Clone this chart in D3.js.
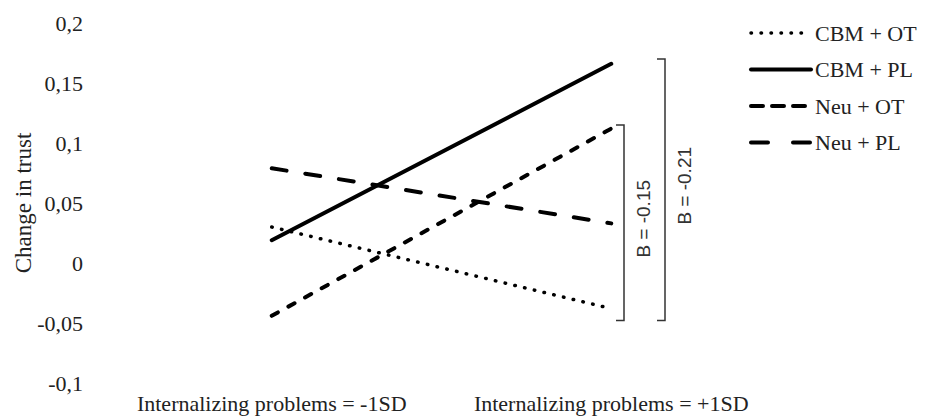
<!DOCTYPE html>
<html>
<head>
<meta charset="utf-8">
<script src="https://cdn.jsdelivr.net/npm/d3@7"></script>
<style>
  body { margin: 0; background: #fff; }
  svg { display: block; }
</style>
</head>
<body>
<div id="chart"></div>
<script>
var width = 928, height = 418;
var serif = "Liberation Serif";

var categories = ["Internalizing problems = -1SD", "Internalizing problems = +1SD"];
var seriesNames = ["CBM + OT", "CBM + PL", "Neu + OT", "Neu + PL"];
var cbmOT = [0.030, -0.038];
var cbmPL = [0.019, 0.166];
var neuOT = [-0.044, 0.112];
var neuPL = [0.079, 0.033];
var yTicks = [-0.1, -0.05, 0, 0.05, 0.1, 0.15, 0.2];

// B annotations: label, top value, bottom value
var bracketLabels = ["B = -0.15", "B = -0.21"];
var bracketTops = [0.115, 0.17];
var bracketBottoms = [-0.048, -0.048];

var styles = [
  { width: 3.5, dash: "0.5,9.5" },  // dotted
  { width: 4, dash: null },         // solid
  { width: 4, dash: "7,12" },       // short dash
  { width: 4, dash: "15,19" }       // long dash
];
var allSeries = [cbmOT, cbmPL, neuOT, neuPL];

var svg = d3.select("#chart").append("svg")
    .attr("width", width)
    .attr("height", height);

var x = d3.scalePoint().domain(categories).range([102, 781]).padding(0.5);
var y = d3.scaleLinear().domain([-0.1, 0.2]).range([383, 23]);

// y axis, labels only
var yAxis = svg.append("g")
    .attr("transform", "translate(83,0)")
    .call(d3.axisLeft(y).tickValues(yTicks).tickSize(0).tickPadding(0)
      .tickFormat(function(d){ return String(d).replace(".", ","); }));
yAxis.select(".domain").remove();
yAxis.selectAll("text")
    .style("font-family", serif)
    .style("font-size", "22px")
    .attr("fill", "#222");

svg.append("text")
    .attr("transform", "translate(31," + ((y(0.2) + y(-0.1)) / 2) + ") rotate(-90)")
    .attr("text-anchor", "middle")
    .style("font-family", serif)
    .style("font-size", "23px")
    .attr("fill", "#222")
    .text("Change in trust");

// category labels
svg.selectAll(".cat").data(categories).enter().append("text")
    .attr("class", "cat")
    .attr("x", function(d){ return x(d); })
    .attr("y", 411)
    .attr("text-anchor", "middle")
    .style("font-family", serif)
    .style("font-size", "22px")
    .attr("fill", "#222")
    .text(function(d){ return d; });

var line = d3.line()
    .x(function(d, i){ return x(categories[i]); })
    .y(function(d){ return y(d); });

svg.selectAll(".series").data(allSeries).enter().append("path")
    .attr("class", "series")
    .attr("d", line)
    .attr("fill", "none")
    .attr("stroke", "#000")
    .attr("stroke-width", function(d, i){ return styles[i].width; })
    .attr("stroke-linecap", "round")
    .attr("stroke-dasharray", function(d, i){ return styles[i].dash; });

// brackets
var bx = [624, 665];
bracketLabels.forEach(function(lab, i){
  var t = y(bracketTops[i]), b = y(bracketBottoms[i]);
  svg.append("path")
      .attr("d", "M" + (bx[i] - 8) + "," + t + "H" + bx[i] + "V" + b + "H" + (bx[i] - 8))
      .attr("fill", "none")
      .attr("stroke", "#333")
      .attr("stroke-width", 1.5);
  svg.append("text")
      .attr("transform", "translate(" + (bx[i] + 26) + "," + ((t + b) / 2 - 4) + ") rotate(-90)")
      .attr("text-anchor", "middle")
      .style("font-family", "Liberation Sans")
      .style("font-size", "19px")
      .attr("fill", "#333")
      .text(lab);
});

// legend
var legend = svg.selectAll(".leg").data(seriesNames).enter().append("g")
    .attr("class", "leg")
    .attr("transform", function(d, i){ return "translate(750," + (33 + i * 36.5) + ")"; });
legend.append("line")
    .attr("x1", 1).attr("x2", 61)
    .attr("stroke", "#000")
    .attr("stroke-width", function(d, i){ return styles[i].width; })
    .attr("stroke-linecap", "round")
    .attr("stroke-dasharray", function(d, i){ return i == 2 ? "12,9" : i == 3 ? "17,25" : styles[i].dash; });
legend.append("text")
    .attr("x", 65)
    .attr("dy", "0.35em")
    .style("font-family", serif)
    .style("font-size", "22px")
    .attr("fill", "#222")
    .text(function(d){ return d; });
</script>
</body>
</html>
